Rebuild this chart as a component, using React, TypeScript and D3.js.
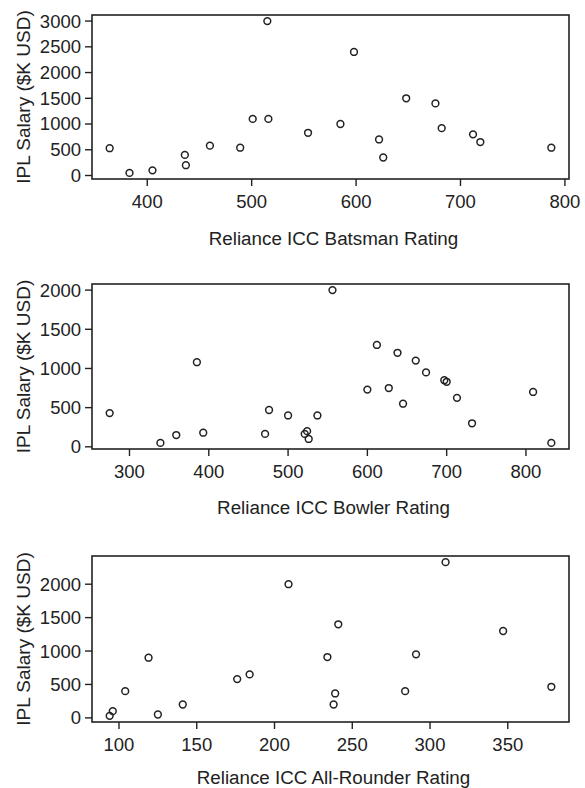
import React from 'react';
import * as d3 from 'd3';

const width = 585;
const height = 788;
const ink = '#222';
const font = '"Liberation Sans", Arial, sans-serif';

// batsman panel
const batRating = [364, 383, 405, 436, 437, 460, 489, 501, 515, 516, 554, 585, 598, 622, 626, 648, 676, 682, 712, 719, 787];
const batSalary = [530, 50, 100, 400, 200, 580, 540, 1100, 3000, 1100, 830, 1000, 2400, 700, 350, 1500, 1400, 920, 800, 650, 540];
const batXTicks = [400, 500, 600, 700, 800];
const batYTicks = [0, 500, 1000, 1500, 2000, 2500, 3000];

// bowler panel
const bowlRating = [275, 339, 359, 385, 393, 471, 476, 500, 521, 524, 526, 537, 556, 600, 612, 627, 638, 645, 661, 674, 697, 700, 713, 732, 809, 832];
const bowlSalary = [430, 50, 150, 1080, 180, 165, 470, 400, 165, 200, 100, 400, 2000, 730, 1300, 750, 1200, 550, 1100, 950, 850, 830, 625, 300, 700, 50];
const bowlXTicks = [300, 400, 500, 600, 700, 800];
const bowlYTicks = [0, 500, 1000, 1500, 2000];

// all-rounder panel
const arRating = [94, 96, 104, 119, 125, 141, 176, 184, 209, 234, 238, 239, 241, 284, 291, 310, 347, 378];
const arSalary = [30, 100, 400, 900, 50, 200, 580, 650, 2000, 910, 200, 365, 1400, 400, 950, 2330, 1300, 465];
const arXTicks = [100, 150, 200, 250, 300, 350];
const arYTicks = [0, 500, 1000, 1500, 2000];

const panels = [
  { top: 15, h: 164, xs: batRating, ys: batSalary, xTicks: batXTicks, yTicks: batYTicks, title: 'Reliance ICC Batsman Rating', titleGap: 59 },
  { top: 284, h: 165, xs: bowlRating, ys: bowlSalary, xTicks: bowlXTicks, yTicks: bowlYTicks, title: 'Reliance ICC Bowler Rating', titleGap: 58 },
  { top: 556, h: 166, xs: arRating, ys: arSalary, xTicks: arXTicks, yTicks: arYTicks, title: 'Reliance ICC All-Rounder Rating', titleGap: 55 }
];

const left = 92;
const right = 569;

// R style: data range padded by 4% each side
function padded(values: number[]) {
  const [lo, hi] = d3.extent(values) as [number, number];
  const pad = (hi - lo) * 0.04;
  return [lo - pad, hi + pad];
}

function Panel({ p }: { p: typeof panels[number] }) {
  const bottom = p.top + p.h;
  const x = d3.scaleLinear().domain(padded(p.xs)).range([left, right]);
  const y = d3.scaleLinear().domain(padded(p.ys)).range([bottom, p.top]);
  const midY = (p.top + bottom) / 2;
  return (
    <g>
      <rect x={left} y={p.top} width={right - left} height={p.h} fill="none" stroke={ink} strokeWidth={1.6} />
      {p.yTicks.map(t => (
        <g key={'y' + t}>
          <line x1={left - 7} x2={left} y1={y(t)} y2={y(t)} stroke={ink} strokeWidth={1.4} />
          <text x={left - 11} y={y(t)} dy="0.35em" textAnchor="end" fontSize={18.5}>{t}</text>
        </g>
      ))}
      {p.xTicks.map(t => (
        <g key={'x' + t}>
          <line x1={x(t)} x2={x(t)} y1={bottom} y2={bottom + 7} stroke={ink} strokeWidth={1.4} />
          <text x={x(t)} y={bottom + 23} dy="0.35em" textAnchor="middle" fontSize={18.5}>{t}</text>
        </g>
      ))}
      {p.xs.map((v, i) => (
        <circle key={i} cx={x(v)} cy={y(p.ys[i])} r={3.4} fill="none" stroke={ink} strokeWidth={1.5} />
      ))}
      <text x={(left + right) / 2 + 3} y={bottom + p.titleGap} dy="0.35em" textAnchor="middle" fontSize={18.8}>{p.title}</text>
      <text transform={`translate(23,${midY}) rotate(-90)`} dy="0.35em" textAnchor="middle" fontSize={19}>IPL Salary ($K USD)</text>
    </g>
  );
}

export default function App() {
  return (
    <div style={{ position: 'absolute', left: 0, top: 0 }}>
      <svg width={width} height={height} fontFamily={font} fill={ink} style={{ display: 'block', background: '#fff' }}>
        {panels.map((p, i) => <Panel key={i} p={p} />)}
      </svg>
    </div>
  );
}
